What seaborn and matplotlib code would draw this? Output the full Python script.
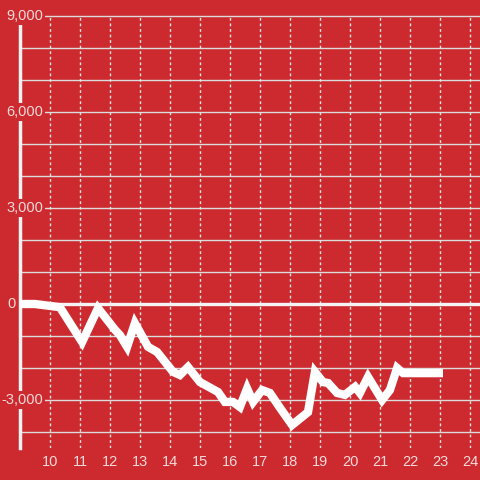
import matplotlib
matplotlib.use("Agg")
import matplotlib.pyplot as plt
import matplotlib.transforms as mtransforms
import seaborn as sns
import pandas as pd

# values
hours = [9.0, 9.5, 10.33, 11.07, 11.6, 12.17, 12.33, 12.57, 12.83, 13.27, 13.57,
         14.1, 14.33, 14.6, 15.0, 15.6, 15.83, 16.1, 16.33, 16.57, 16.77, 17.07,
         17.33, 17.67, 18.07, 18.6, 18.83, 19.1, 19.27, 19.57, 19.83, 20.17,
         20.33, 20.6, 21.07, 21.33, 21.57, 21.77, 23.1]
balance = [0, 0, -100, -1190, -130, -810, -970, -1340, -600, -1340, -1500,
           -2120, -2220, -1970, -2440, -2750, -3060, -3060, -3220, -2640, -3060, -2690,
           -2780, -3250, -3780, -3380, -2120, -2440, -2470, -2780, -2840, -2590,
           -2780, -2280, -3000, -2690, -2000, -2160, -2160]
y_major = [-3000, 0, 3000, 6000, 9000]
y_grid = [-4000, -3000, -2000, -1000, 0, 1000, 2000, 3000, 4000, 5000, 6000, 7000, 8000, 9000]
x_ticks = list(range(10, 25))

BG = "#cc2a2f"
TXT = "#f6dada"

sns.set_style("white")
plt.rcParams['font.family'] = ['Liberation Sans', 'DejaVu Sans']

df = pd.DataFrame({"hour": hours, "balance": balance})

fig = plt.figure(figsize=(4.8, 4.8), dpi=100, facecolor=BG)
ax = fig.add_axes([20 / 480, 32 / 480, 460 / 480, 432 / 480])
ax.set_facecolor(BG)

ax.set_xlim(9, 9 + 460 / 30)
ax.set_ylim(-4500, 9000)

# grid
for g in y_grid:
    ax.axhline(g, color="#dcdcdc", lw=1, zorder=1, clip_on=False)
for xt in x_ticks:
    ax.axvline(xt, color="#e6e6e6", lw=1, ls=(0, (2, 2)), zorder=1)
ax.axhline(0, color="#f4f4f4", lw=2.4, zorder=2)

sns.lineplot(data=df, x="hour", y="balance", ax=ax, color="white", lw=6,
             zorder=3, solid_joinstyle="miter", solid_capstyle="butt")

for s in ["top", "right", "bottom"]:
    ax.spines[s].set_visible(False)
ax.spines["left"].set_color("#f2f2f2")
ax.spines["left"].set_linewidth(2.5)
ax.spines["left"].set_zorder(2)

ax.set_xticks(x_ticks)
ax.set_xticklabels([str(t) for t in x_ticks])
ax.set_yticks([])
ax.tick_params(axis="x", length=0, pad=5, labelsize=10.5, colors=TXT)
ax.set_xlabel("")
ax.set_ylabel("")

# y labels sit over the axis line with a red backing, like the reference
trans = mtransforms.blended_transform_factory(fig.transFigure, ax.transData)
for v in y_major:
    if v == 0:
        ax.text(16 / 480, v, "0", transform=trans, ha="right", va="center",
                fontsize=10.5, color=TXT, zorder=6, clip_on=False)
        continue
    ax.text(43 / 480, v, f"{v:,}", transform=trans, ha="right", va="center",
            fontsize=10.5, color=TXT, zorder=6, clip_on=False,
            bbox=dict(facecolor=BG, edgecolor="none", pad=1.5))

fig.savefig("out.png", dpi=100, facecolor=BG)
